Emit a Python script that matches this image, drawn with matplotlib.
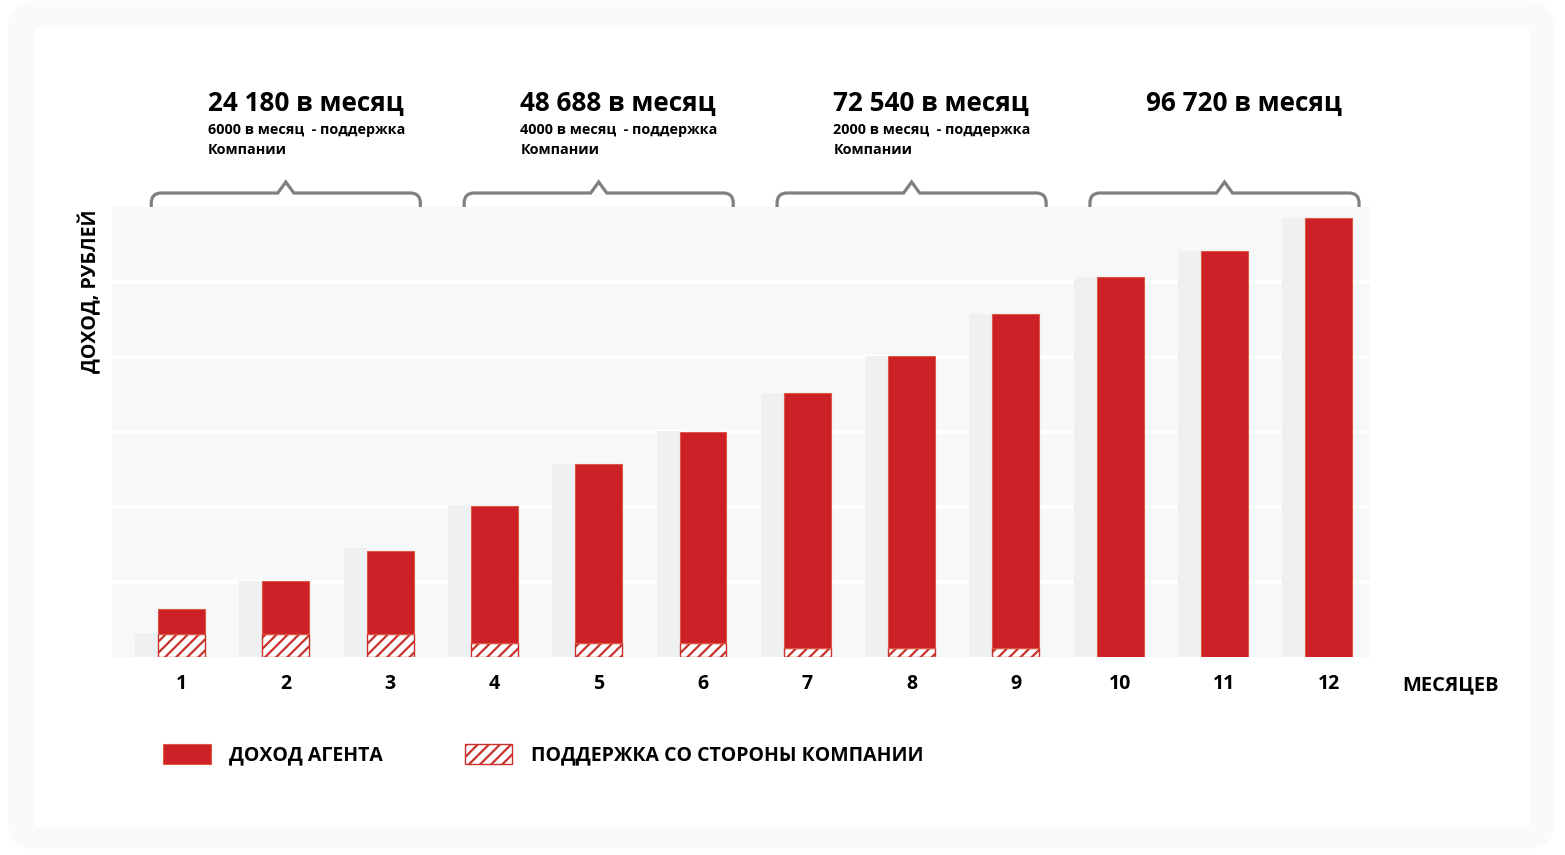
import matplotlib
matplotlib.use("Agg")
import matplotlib.pyplot as plt
from matplotlib.patches import Patch, FancyBboxPatch, Rectangle, PathPatch
from matplotlib.path import Path
from matplotlib.transforms import blended_transform_factory, IdentityTransform
from matplotlib.font_manager import FontProperties

# ---------------- data ----------------
months = [1, 2, 3, 4, 5, 6, 7, 8, 9, 10, 11, 12]
month_labels = ["1", "2", "3", "4", "5", "6", "7", "8", "9", "10", "11", "12"]
# total income per month (thousand rubles)
income_total = [10.6, 16.7, 23.3, 33.3, 42.5, 49.5, 58.1, 66.3, 75.5, 83.7, 89.4, 96.7]
# company support part (hatched)
support = [5.1, 5.1, 5.1, 3.1, 3.1, 3.1, 2.0, 2.0, 2.0, 0.0, 0.0, 0.0]
# grey "shadow" bars behind
shadow = [5.3, 16.7, 24.0, 33.5, 42.5, 49.8, 58.1, 66.3, 75.5, 83.7, 89.4, 96.7]

group_mid = [2, 5, 8, 11]
group_totals = ["24 180", "48 688", "72 540", "96 720"]
group_support = ["6000", "4000", "2000", None]

legend_labels = ["ДОХОД АГЕНТА", "ПОДДЕРЖКА СО СТОРОНЫ КОМПАНИИ"]
ylabel_text = "ДОХОД, РУБЛЕЙ"
xlabel_text = "МЕСЯЦЕВ"

# ---------------- style ----------------
RED = "#cd2027"
RED_EDGE = "#dc5a43"
HATCH_COL = "#c9312b"
BAND = "#f7f8fa"
SHADOW = "#eff0f2"
GREY = "#808080"
FONT = "Open Sans"

plt.rcParams["hatch.linewidth"] = 1.6
plt.rcParams["font.family"] = [FONT, "DejaVu Sans"]

W, H = 1565, 855
fig = plt.figure(figsize=(W / 100, H / 100), dpi=100)
fig.patch.set_facecolor("white")

# outer soft frame + inner white card (display pixels)
fig.patches.append(FancyBboxPatch((20, 18), 1522, 824,
                                  boxstyle="round,pad=12,rounding_size=28",
                                  transform=IdentityTransform(), facecolor="#fafafa",
                                  edgecolor="none", zorder=-10))
fig.patches.append(Rectangle((35, H - 827), 1495, 799, transform=IdentityTransform(),
                             facecolor="white", edgecolor="none", zorder=-9))

ax_l, ax_r, ax_t, ax_b = 112, 1370, 207, 657
ax = fig.add_axes([ax_l / W, 1 - ax_b / H, (ax_r - ax_l) / W, (ax_b - ax_t) / H])
ax.set_facecolor(BAND)

step_px = 104.3
x0_px = 181.5
ax.set_xlim(1 + (ax_l - x0_px) / step_px, 1 + (ax_r - x0_px) / step_px)
ymax = 99.1
ax.set_ylim(0, ymax)

for k in range(1, 6):
    ax.axhline(ymax * k / 6, color="white", lw=2.9, zorder=1)

bw = 0.45
sw = 0.22
agent = [t - s for t, s in zip(income_total, support)]
# shadow bars
ax.bar([m - bw / 2 - sw for m in months], shadow, width=sw, align="edge",
       color=SHADOW, edgecolor="none", zorder=2)
# support (hatched)
ax.bar(months, support, width=bw, color="white", edgecolor=HATCH_COL,
       hatch="///", linewidth=1.0, zorder=3)
# agent income (red)
ax.bar(months, agent, bottom=support, width=bw, color=RED, edgecolor=RED_EDGE,
       linewidth=0.8, zorder=3)

for s in ax.spines.values():
    s.set_visible(False)
ax.set_yticks([])
ax.set_xticks(months)
ax.set_xticklabels(month_labels, fontsize=14, fontweight="bold", family=FONT)
ax.tick_params(axis="x", length=0, pad=12)

# x label "МЕСЯЦЕВ"
fig.text(1450 / W, 1 - 690 / H, xlabel_text, ha="center", va="baseline",
         fontsize=14.5, fontweight="bold", family=FONT)
# y label
fig.text(90 / W, 1 - 291 / H, ylabel_text, ha="center", va="center", rotation=90,
         fontsize=14, fontweight="bold", family=FONT)

# brackets
bt = blended_transform_factory(ax.transData, ax.transAxes)
u = 1 / step_px
v = 1 / (ax_b - ax_t)
half = 1.29
for xc in group_mid:
    xl, xr = xc - half, xc + half
    yb, yc_, yt, yp = 1.0, 1 + 4 * v, 1 + 14 * v, 1 + 25 * v
    verts = [(xl, yb), (xl, yc_), (xl, yt), (xl + 10 * u, yt),
             (xc - 8 * u, yt), (xc, yp), (xc + 8 * u, yt),
             (xr - 10 * u, yt), (xr, yt), (xr, yc_), (xr, yb)]
    codes = [Path.MOVETO, Path.LINETO, Path.CURVE3, Path.CURVE3,
             Path.LINETO, Path.LINETO, Path.LINETO,
             Path.LINETO, Path.CURVE3, Path.CURVE3, Path.LINETO]
    ax.add_patch(PathPatch(Path(verts, codes), transform=bt, fill=False,
                           edgecolor=GREY, lw=2.3, clip_on=False,
                           capstyle="butt", joinstyle="miter"))

# headings
ht = blended_transform_factory(ax.transData, fig.transFigure)
for xc, tot, sup in zip(group_mid, group_totals, group_support):
    xt = xc - 0.75
    fig.text(xt, 1 - 111 / H, f"{tot} в месяц", transform=ht, ha="left",
             va="baseline", fontsize=18.8, fontweight="bold", family=FONT)
    if sup is not None:
        fig.text(xt, 1 - 134 / H, f"{sup} в месяц  - поддержка", transform=ht,
                 ha="left", va="baseline", fontsize=10.4, fontweight="bold", family=FONT)
        fig.text(xt, 1 - 154 / H, "Компании", transform=ht,
                 ha="left", va="baseline", fontsize=10.4, fontweight="bold", family=FONT)

# legend
handles = [Patch(facecolor=RED, edgecolor=RED_EDGE, linewidth=0.8),
           Patch(facecolor="white", edgecolor=HATCH_COL, hatch="///", linewidth=1.0)]
ax.legend(handles, legend_labels, ncol=2, frameon=False, loc="upper left",
          bbox_to_anchor=(163 / W, 1 - 744 / H), bbox_transform=fig.transFigure,
          borderpad=0, borderaxespad=0, handlelength=2.45, handleheight=1.18,
          handletextpad=0.95, columnspacing=4.2,
          prop=FontProperties(family=FONT, weight="bold", size=14))

fig.savefig("out.png", dpi=100, facecolor="white")
